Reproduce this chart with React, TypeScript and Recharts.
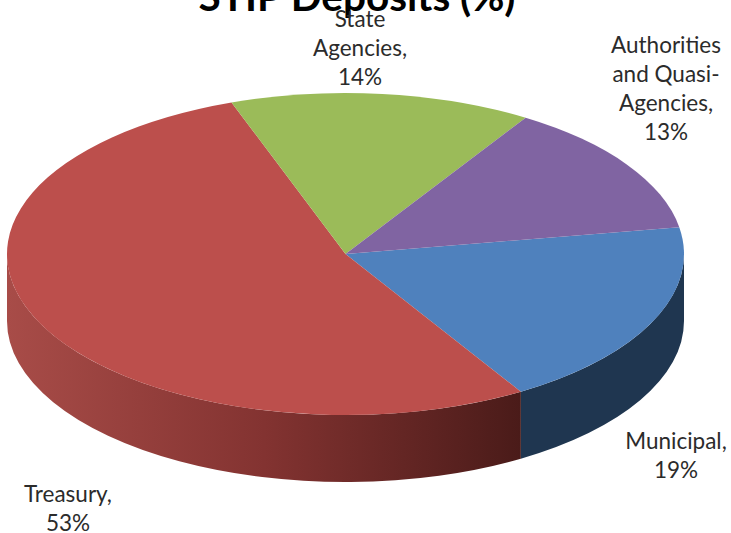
import { PieChart, Pie, Cell } from 'recharts';

const categories = ['Municipal', 'Treasury', 'State Agencies', 'Authorities and Quasi-Agencies'];
const shares = [19.0, 53.2, 14.4, 13.4];
const labelLines = [['Municipal,'], ['Treasury,'], ['State', 'Agencies,'], ['Authorities', 'and Quasi-', 'Agencies,']];

const topColors = ['#4F81BD', '#BC4F4C', '#9BBB59', '#8064A2'];
const labelSpots = [
  { x: 676, y: 442 },
  { x: 68, y: 495 },
  { x: 360, y: 20 },
  { x: 666, y: 46 },
];

const data = categories.map((name, i) => ({ name, value: shares[i] }));

const TILT = 0.4756;
const DEPTH = 67;
const FONT = 'Lato, "Open Sans", sans-serif';

function onRim(cx: number, cy: number, r: number, deg: number) {
  const a = (deg * Math.PI) / 180;
  return { x: cx + r * Math.cos(a), y: cy - r * TILT * Math.sin(a) };
}

// squashed sector plus the visible part of the side wall
function Slice3D(props: any) {
  const { cx, cy, outerRadius: r, startAngle, endAngle, fill, index } = props;
  const ry = r * TILT;
  const p0 = onRim(cx, cy, r, startAngle);
  const p1 = onRim(cx, cy, r, endAngle);
  const large = Math.abs(startAngle - endAngle) > 180 ? 1 : 0;
  const top = `M${cx},${cy} L${p0.x},${p0.y} A${r},${ry} 0 ${large} 1 ${p1.x},${p1.y} Z`;

  const hi = Math.min(startAngle, 0);
  const lo = Math.max(endAngle, -180);
  let wall = null;
  if (hi > lo) {
    const a = onRim(cx, cy, r, hi);
    const b = onRim(cx, cy, r, lo);
    const d = `M${a.x},${a.y} A${r},${ry} 0 0 1 ${b.x},${b.y} L${b.x},${b.y + DEPTH} A${r},${ry} 0 0 0 ${a.x},${a.y + DEPTH} Z`;
    wall = <path d={d} fill={`url(#wall${index})`} />;
  }
  return (
    <g>
      {wall}
      <path d={top} fill={fill} />
    </g>
  );
}

function SliceLabel(props: any) {
  const { index } = props;
  const spot = labelSpots[index];
  const lines = [...labelLines[index], `${Math.round(shares[index])}%`];
  return (
    <text x={spot.x} y={spot.y} textAnchor="middle" fontFamily={FONT} fontSize={22.5} fill="#2b2b2b">
      {lines.map((line, i) => (
        <tspan key={i} x={spot.x} dy={i === 0 ? 7 : 29}>
          {line}
        </tspan>
      ))}
    </text>
  );
}

export default function App() {
  return (
    <div style={{ position: 'absolute', left: 0, top: 0, width: 731, height: 533, overflow: 'hidden', background: '#fff' }}>
      <PieChart width={731} height={533} margin={{ top: 0, right: 0, bottom: 0, left: 0 }}>
        <defs>
          <linearGradient id="wall0" x1="0" y1="0" x2="1" y2="0">
            <stop offset="0" stopColor="#1F3650" />
            <stop offset="1" stopColor="#1F3650" />
          </linearGradient>
          <linearGradient id="wall1" gradientUnits="userSpaceOnUse" x1="7" y1="0" x2="521" y2="0">
            <stop offset="0" stopColor="#A84C48" />
            <stop offset="0.5" stopColor="#833331" />
            <stop offset="1" stopColor="#4A1B19" />
          </linearGradient>
        </defs>
        <text x={357} y={11} textAnchor="middle" fontFamily={FONT} fontWeight={700} fontSize={40.5} fill="#000">
          STIP Deposits (%)
        </text>
        <Pie
          data={data}
          dataKey="value"
          nameKey="name"
          cx={345.5}
          cy={254}
          outerRadius={338.5}
          startAngle={9.6}
          endAngle={-350.4}
          stroke="none"
          shape={Slice3D}
          label={SliceLabel}
          labelLine={false}
          isAnimationActive={false}
        >
          {data.map((d, i) => (
            <Cell key={d.name} fill={topColors[i]} />
          ))}
        </Pie>
      </PieChart>
    </div>
  );
}
